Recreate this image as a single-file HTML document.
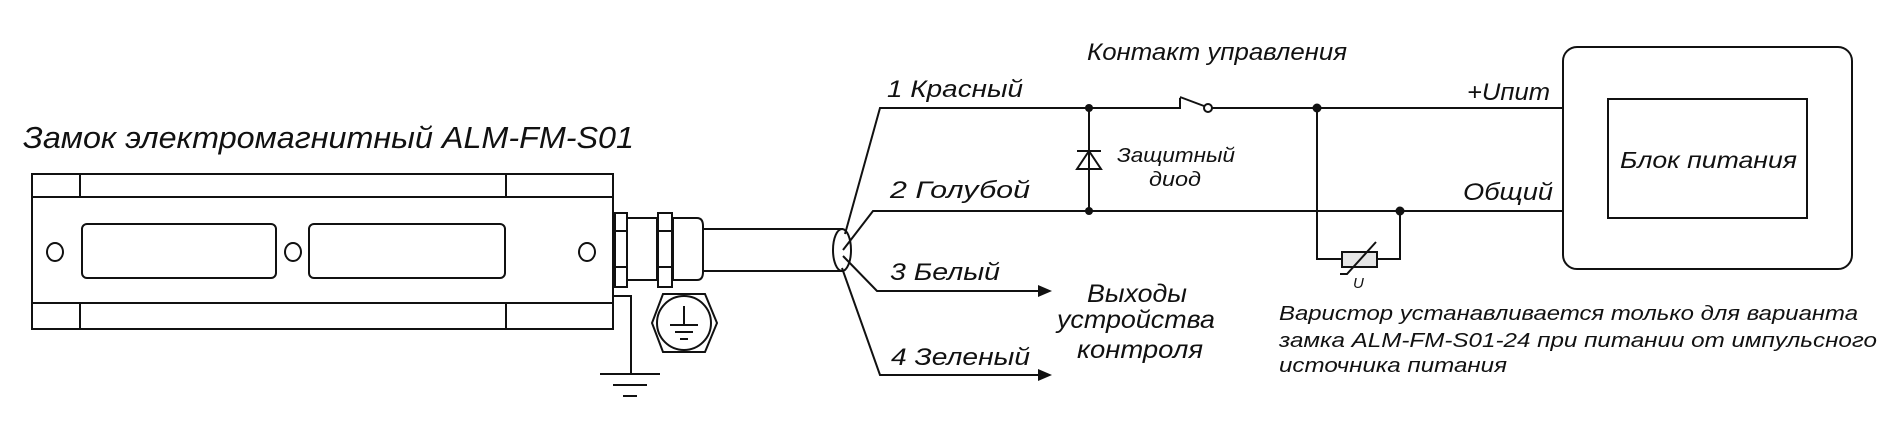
<!DOCTYPE html>
<html><head><meta charset="utf-8"><style>
html,body{margin:0;padding:0;background:#fff;}
svg{display:block}
text{font-family:"Liberation Sans",sans-serif;font-style:italic;fill:#111;}
</style></head><body>
<svg width="1891" height="426" viewBox="0 0 1891 426" xmlns="http://www.w3.org/2000/svg">
<g fill="none" stroke="#111" stroke-width="2">
<!-- lock body -->
<rect x="32" y="174" width="581" height="155"/>
<line x1="32" y1="197" x2="613" y2="197"/>
<line x1="32" y1="303" x2="613" y2="303"/>
<line x1="80" y1="174" x2="80" y2="197"/>
<line x1="506" y1="174" x2="506" y2="197"/>
<line x1="80" y1="303" x2="80" y2="329"/>
<line x1="506" y1="303" x2="506" y2="329"/>
<ellipse cx="55" cy="252" rx="8" ry="9"/>
<ellipse cx="293" cy="252" rx="8" ry="9"/>
<ellipse cx="587" cy="252" rx="8" ry="9"/>
<rect x="82" y="224" width="194" height="54" rx="5"/>
<rect x="309" y="224" width="196" height="54" rx="5"/>
<!-- gland -->
<rect x="615" y="213" width="12" height="74"/>
<line x1="615" y1="231" x2="627" y2="231"/><line x1="615" y1="267" x2="627" y2="267"/>
<rect x="627" y="218" width="30" height="62"/>
<rect x="658" y="213" width="14" height="74"/>
<line x1="658" y1="231" x2="672" y2="231"/><line x1="658" y1="267" x2="672" y2="267"/>
<path d="M673 218 H697 Q703 218 703 226 V272 Q703 280 697 280 H673 Z"/>
<line x1="703" y1="229" x2="843" y2="229"/>
<line x1="703" y1="271" x2="843" y2="271"/>
<ellipse cx="842" cy="250" rx="9" ry="21"/>
<!-- ground -->
<polyline points="613,296 631,296 631,374"/>
<line x1="600" y1="374" x2="660" y2="374"/>
<line x1="613" y1="385" x2="647" y2="385"/>
<line x1="623" y1="396" x2="637" y2="396"/>
<polygon points="663,294 705,294 717,323 705,352 663,352 652,323"/>
<circle cx="684" cy="323" r="27"/>
<line x1="684" y1="306" x2="684" y2="325"/>
<line x1="670" y1="325" x2="698" y2="325"/>
<line x1="675" y1="332" x2="693" y2="332"/>
<line x1="680" y1="339" x2="688" y2="339"/>
<!-- wires -->
<polyline points="845,234 880,108 1180,108 1180,98"/>
<line x1="1180" y1="97" x2="1204" y2="106"/>
<circle cx="1208" cy="108" r="4"/>
<line x1="1212" y1="108" x2="1563" y2="108"/>
<polyline points="843,250 873,211 1563,211"/>
<polyline points="843,256 877,291 1040,291"/>
<polyline points="842,268 880,375 1040,375"/>
<!-- diode -->
<line x1="1089" y1="108" x2="1089" y2="211"/>
<line x1="1077" y1="151" x2="1101" y2="151"/>
<polygon points="1089,151 1077,169 1101,169"/>
<!-- varistor -->
<polyline points="1317,108 1317,259 1342,259"/>
<polyline points="1377,259 1400,259 1400,211"/>
<rect x="1342" y="252" width="35" height="15" fill="#e6e6e6"/>
<polyline points="1340,274 1347,274 1376,242"/>
<!-- PSU -->
<rect x="1563" y="47" width="289" height="222" rx="14"/>
<rect x="1608" y="99" width="199" height="119"/>
</g>
<g fill="#111">
<circle cx="1089" cy="108" r="4"/><circle cx="1089" cy="211" r="4"/>
<circle cx="1317" cy="108" r="4.5"/><circle cx="1400" cy="211" r="4.5"/>
<polygon points="1052,291 1038,285 1038,297"/>
<polygon points="1052,375 1038,369 1038,381"/>
</g>
<text x="23" y="148" font-size="31" textLength="611" lengthAdjust="spacingAndGlyphs">Замок электромагнитный ALM-FM-S01</text>
<text x="1087" y="60" font-size="24" textLength="260" lengthAdjust="spacingAndGlyphs">Контакт управления</text>
<text x="887" y="97" font-size="24" textLength="136" lengthAdjust="spacingAndGlyphs">1 Красный</text>
<text x="1467" y="100" font-size="24" textLength="83" lengthAdjust="spacingAndGlyphs">+Uпит</text>
<text x="890" y="198" font-size="24" textLength="140" lengthAdjust="spacingAndGlyphs">2 Голубой</text>
<text x="1463" y="200" font-size="24" textLength="90" lengthAdjust="spacingAndGlyphs">Общий</text>
<text x="1117" y="162" font-size="20" textLength="118" lengthAdjust="spacingAndGlyphs">Защитный</text>
<text x="1149" y="186" font-size="20" textLength="52" lengthAdjust="spacingAndGlyphs">диод</text>
<text x="890" y="280" font-size="24" textLength="110" lengthAdjust="spacingAndGlyphs">3 Белый</text>
<text x="891" y="365" font-size="24" textLength="139" lengthAdjust="spacingAndGlyphs">4 Зеленый</text>
<text x="1087" y="302" font-size="25" textLength="100" lengthAdjust="spacingAndGlyphs">Выходы</text>
<text x="1057" y="328" font-size="25" textLength="158" lengthAdjust="spacingAndGlyphs">устройства</text>
<text x="1077" y="358" font-size="25" textLength="126" lengthAdjust="spacingAndGlyphs">контроля</text>
<text x="1620" y="168" font-size="23" textLength="177" lengthAdjust="spacingAndGlyphs">Блок питания</text>
<text x="1353" y="288" font-size="15">U</text>
<text x="1279" y="320" font-size="20" textLength="579" lengthAdjust="spacingAndGlyphs">Варистор устанавливается только для варианта</text>
<text x="1279" y="347" font-size="20" textLength="598" lengthAdjust="spacingAndGlyphs">замка ALM-FM-S01-24 при питании от импульсного</text>
<text x="1279" y="372" font-size="20" textLength="228" lengthAdjust="spacingAndGlyphs">источника питания</text>
</svg>
</body></html>
